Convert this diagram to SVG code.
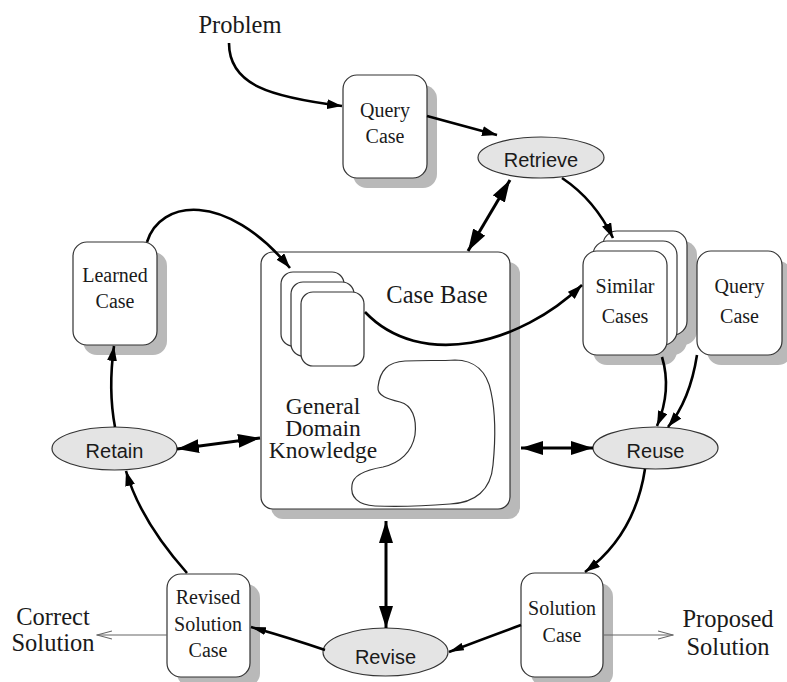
<svg xmlns="http://www.w3.org/2000/svg" width="787" height="682" viewBox="0 0 787 682">
  <style>
    .shadow { fill: #b9b9b9; stroke: none; }
    .box { fill: #ffffff; stroke: #333333; stroke-width: 1.2; }
    .oval { fill: #e4e4e4; stroke: #333333; stroke-width: 1.2; }
    .serif { font-family: "Liberation Serif", "Times New Roman", serif; fill: #1a1a1a; text-anchor: middle; }
    .lbl { font-size: 20px; }
    .big { font-size: 24.5px; }
    .gdk { font-size: 23.5px; }
    .sans { font-family: "Liberation Sans", Arial, sans-serif; font-size: 20px; fill: #1a1a1a; text-anchor: middle; }
    .edge { fill: none; stroke: #000000; stroke-width: 2.6; }
    .bi { fill: none; stroke: #000000; stroke-width: 3; }
    .thin { fill: none; stroke: #666666; stroke-width: 1.2; }
  </style>
  <defs>
    <marker id="head" viewBox="0 0 15 10" refX="15" refY="5" markerWidth="15" markerHeight="10" markerUnits="userSpaceOnUse" orient="auto">
      <path d="M0,0 L15,5 L0,10 z" fill="#000000"/>
    </marker>
    <marker id="headSmall" viewBox="0 0 15 8" refX="15" refY="4" markerWidth="15" markerHeight="8" markerUnits="userSpaceOnUse" orient="auto">
      <path d="M0,0 L15,4 L0,8 z" fill="#000000"/>
    </marker>
    <marker id="headBig" viewBox="0 0 22 14" refX="22" refY="7" markerWidth="22" markerHeight="14" markerUnits="userSpaceOnUse" orient="auto-start-reverse">
      <path d="M0,0 L22,7 L0,14 z" fill="#000000"/>
    </marker>
    <marker id="open" viewBox="0 0 16 10" refX="15" refY="5" markerWidth="16" markerHeight="10" markerUnits="userSpaceOnUse" orient="auto">
      <path d="M0,1 L15,5 L0,9" fill="none" stroke="#666666" stroke-width="1.2"/>
    </marker>
  </defs>

  <!-- free labels -->
  <g id="problem">
    <text class="serif big" x="240" y="33">Problem</text>
  </g>
  <g id="correct-solution">
    <text class="serif big" x="53" y="625">Correct</text>
    <text class="serif big" x="53" y="651">Solution</text>
  </g>
  <g id="proposed-solution">
    <text class="serif big" x="728" y="627">Proposed</text>
    <text class="serif big" x="728" y="655">Solution</text>
  </g>

  <!-- case base with its cases and domain knowledge -->
  <g id="case-base">
    <rect class="shadow" x="271" y="262" width="249" height="257" rx="12"/>
    <rect class="box" x="261" y="252" width="249" height="257" rx="12"/>
    <rect class="box" x="281" y="272" width="63" height="74" rx="12"/>
    <rect class="box" x="291" y="282" width="63" height="74" rx="12"/>
    <rect class="box" x="301" y="292" width="63" height="74" rx="12"/>
    <text class="serif big" x="437" y="303">Case Base</text>
    <path class="box" d="M378,387 C 380,370 388,362 405,361 C 425,360 440,361 455,360 C 475,360 487,372 491,392 C 496,415 495,445 493,465 C 491,490 475,503 450,504 C 425,506 400,507 375,506 C 358,505 350,497 352,485 C 353,475 365,470 383,467 C 400,463 412,452 415,435 C 417,418 412,405 400,402 C 388,399 377,396 378,387 Z"/>
    <text class="serif gdk" x="323" y="414">General</text>
    <text class="serif gdk" x="323" y="436">Domain</text>
    <text class="serif gdk" x="323" y="458">Knowledge</text>
  </g>

  <!-- cases -->
  <g id="query-case-top">
    <rect class="shadow" x="353" y="85" width="84" height="103" rx="14"/>
    <rect class="box" x="343" y="75" width="84" height="103" rx="14"/>
    <text class="serif lbl" x="385" y="117">Query</text>
    <text class="serif lbl" x="385" y="143">Case</text>
  </g>
  <g id="learned-case">
    <rect class="shadow" x="83" y="252" width="84" height="103" rx="14"/>
    <rect class="box" x="73" y="242" width="84" height="103" rx="14"/>
    <text class="serif lbl" x="115" y="282">Learned</text>
    <text class="serif lbl" x="115" y="308">Case</text>
  </g>
  <g id="similar-cases">
    <rect class="shadow" x="613" y="241" width="84" height="104" rx="14"/>
    <rect class="shadow" x="603" y="251" width="84" height="104" rx="14"/>
    <rect class="shadow" x="593" y="261" width="84" height="104" rx="14"/>
    <rect class="box" x="603" y="231" width="84" height="104" rx="14"/>
    <rect class="box" x="593" y="241" width="84" height="104" rx="14"/>
    <rect class="box" x="583" y="251" width="84" height="104" rx="14"/>
    <text class="serif lbl" x="625" y="293">Similar</text>
    <text class="serif lbl" x="625" y="323">Cases</text>
  </g>
  <g id="query-case-right">
    <rect class="shadow" x="707" y="261" width="85" height="104" rx="14"/>
    <rect class="box" x="697" y="251" width="85" height="104" rx="14"/>
    <text class="serif lbl" x="739.5" y="293">Query</text>
    <text class="serif lbl" x="739.5" y="323">Case</text>
  </g>
  <g id="solution-case">
    <rect class="shadow" x="531" y="583" width="82" height="104" rx="14"/>
    <rect class="box" x="521" y="573" width="82" height="104" rx="14"/>
    <text class="serif lbl" x="562" y="615">Solution</text>
    <text class="serif lbl" x="562" y="642">Case</text>
  </g>
  <g id="revised-solution-case">
    <rect class="shadow" x="177" y="584" width="83" height="103" rx="14"/>
    <rect class="box" x="167" y="574" width="83" height="103" rx="14"/>
    <text class="serif lbl" x="208" y="604">Revised</text>
    <text class="serif lbl" x="208" y="631">Solution</text>
    <text class="serif lbl" x="208" y="657">Case</text>
  </g>

  <!-- process steps -->
  <g id="retrieve">
    <ellipse class="oval" cx="541" cy="157.5" rx="63" ry="20.5"/>
    <text class="sans" x="541" y="167">Retrieve</text>
  </g>
  <g id="reuse">
    <ellipse class="oval" cx="655.5" cy="448" rx="62.5" ry="21"/>
    <text class="sans" x="655.5" y="458">Reuse</text>
  </g>
  <g id="revise">
    <ellipse class="oval" cx="385.5" cy="652" rx="62.5" ry="24"/>
    <text class="sans" x="385.5" y="664">Revise</text>
  </g>
  <g id="retain">
    <ellipse class="oval" cx="114.5" cy="448.5" rx="62.5" ry="21.5"/>
    <text class="sans" x="114.5" y="458">Retain</text>
  </g>

  <!-- connectors -->
  <g id="connectors">
    <path class="edge" d="M229,43 C 229,85 270,97 342,106" marker-end="url(#head)"/>
    <path class="edge" d="M427,116 L497,135" marker-end="url(#head)"/>
    <path class="edge" d="M562,178 Q 595,200 613,238" marker-end="url(#head)"/>
    <path class="bi" d="M510,180 L468,251" marker-start="url(#headBig)" marker-end="url(#headBig)"/>
    <path class="edge" d="M365,312 C 420,370 520,345 582,285" marker-end="url(#head)"/>
    <path class="edge" d="M147,242 C 160,200 225,190 290,268" marker-end="url(#head)"/>
    <path class="edge" d="M115,427 Q 108,390 114,346" marker-end="url(#head)"/>
    <path class="bi" d="M177,449 L260,438" marker-start="url(#headBig)" marker-end="url(#headBig)"/>
    <path class="edge" d="M187,573 Q 140,520 126,471" marker-end="url(#head)"/>
    <path class="edge" d="M325,650 Q 290,638 251,627" marker-end="url(#headSmall)"/>
    <path class="bi" d="M386,521 L386,628" marker-start="url(#headBig)" marker-end="url(#headBig)"/>
    <path class="bi" d="M521,448 L593,448" marker-start="url(#headBig)" marker-end="url(#headBig)"/>
    <path class="edge" d="M662,357 Q 672,390 657,426" marker-end="url(#head)"/>
    <path class="edge" d="M697,355 Q 690,400 668,427" marker-end="url(#head)"/>
    <path class="edge" d="M645,469 Q 635,535 585,572" marker-end="url(#head)"/>
    <path class="edge" d="M521,625 Q 480,640 449,652" marker-end="url(#headSmall)"/>
    <path class="thin" d="M603,635 L673,635" marker-end="url(#open)"/>
    <path class="thin" d="M167,635 L97,635" marker-end="url(#open)"/>
  </g>
</svg>
